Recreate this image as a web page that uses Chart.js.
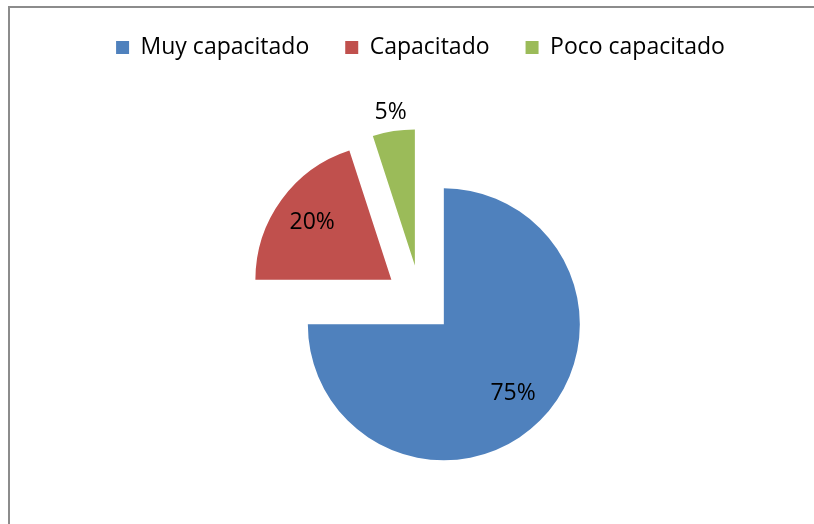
<!DOCTYPE html>
<html>
<head>
<meta charset="utf-8">
<script src="https://cdn.jsdelivr.net/npm/chart.js@4.4.1/dist/chart.umd.min.js"></script>
<style>
  html, body { margin: 0; padding: 0; background: #fff; overflow: hidden; }
  #frame {
    position: absolute; left: 8px; top: 6px; width: 1000px; height: 700px;
    border-top: 2px solid #8c8c8c; border-left: 2px solid #8c8c8c;
  }
  #wrap { position: absolute; left: 0; top: 0; width: 814px; height: 533px; }
</style>
</head>
<body>
<div id="frame"></div>
<div id="wrap"><canvas id="pieChart"></canvas></div>
<script>
const categories = ["Muy capacitado", "Capacitado", "Poco capacitado"];
const shares = [75, 20, 5];
const sliceColors = ["#4f81bd", "#c0504d", "#9bbb59"];

// how far each slice is pulled out of the centre (px)
const explodeBy = [33, 36, 36];

const explodeSlices = {
  id: "explodeSlices",
  beforeDatasetsDraw(chart) {
    const area = chart.chartArea;
    const cx = (area.left + area.right) / 2;
    const cy = (area.top + area.bottom) / 2;
    chart.getDatasetMeta(0).data.forEach((arc, i) => {
      const mid = (arc.startAngle + arc.endAngle) / 2;
      arc.x = cx + Math.cos(mid) * explodeBy[i];
      arc.y = cy + Math.sin(mid) * explodeBy[i];
    });
  },
  afterDatasetsDraw(chart) {
    const ctx = chart.ctx;
    const total = shares.reduce((a, b) => a + b, 0);
    ctx.save();
    ctx.font = "23px 'Open Sans'";
    ctx.fillStyle = "#000";
    ctx.textAlign = "center";
    ctx.textBaseline = "middle";
    chart.getDatasetMeta(0).data.forEach((arc, i) => {
      const pct = (shares[i] / total) * 100;
      const mid = (arc.startAngle + arc.endAngle) / 2;
      // small slices get their label outside
      const r = pct < 10 ? arc.outerRadius + 19 : arc.outerRadius * 0.72;
      ctx.fillText(Math.round(pct) + "%", arc.x + Math.cos(mid) * r, arc.y + Math.sin(mid) * r);
    });
    ctx.restore();
  },
};

const ctx = document.getElementById("pieChart");
new Chart(ctx, {
  type: "pie",
  data: {
    labels: categories,
    datasets: [
      {
        data: shares,
        backgroundColor: sliceColors,
        borderWidth: 0,
        radius: 136,
      },
    ],
  },
  options: {
    responsive: true,
    maintainAspectRatio: false,
    animation: false,
    events: [],
    layout: { padding: { left: 27, right: 0, top: 0, bottom: 0 } },
    plugins: {
      legend: {
        position: "top",
        labels: {
          boxWidth: 13,
          boxHeight: 13,
          padding: 36,
          color: "#000",
          font: { family: "'Open Sans'", size: 23 },
        },
      },
      tooltip: { enabled: false },
    },
  },
  plugins: [explodeSlices],
});
</script>
</body>
</html>
